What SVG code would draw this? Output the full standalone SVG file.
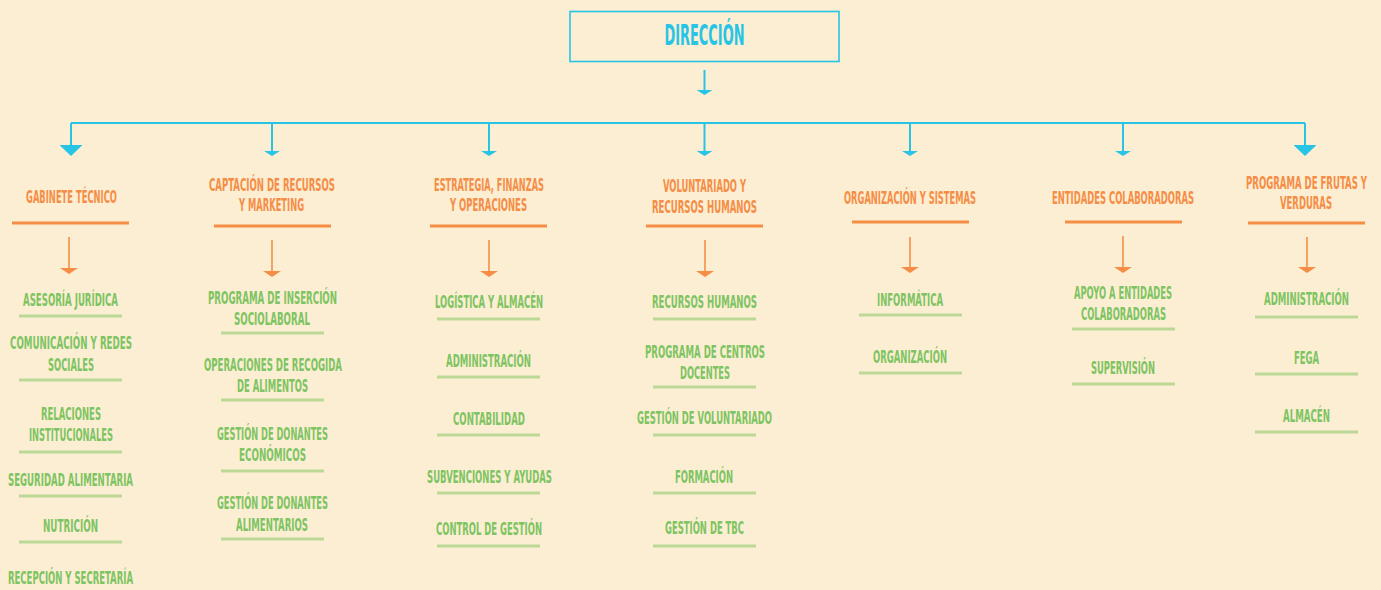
<svg xmlns="http://www.w3.org/2000/svg" width="1381" height="590" viewBox="0 0 1381 590">
<defs>
<style>
text{font-family:"DejaVu Sans Condensed","DejaVu Sans","Liberation Sans",sans-serif;font-weight:bold;font-stretch:condensed;text-anchor:middle}
.d{fill:#27C4E6;font-size:27.5px}
.t{fill:#F58D46;font-size:18px}
.g{fill:#7DC462;font-size:18px}
.ou{stroke:#F58D46;stroke-width:3;fill:none}
.gu{stroke:#BCD897;stroke-width:3;fill:none}
.cy{stroke:#27C4E6;stroke-width:2;fill:none}
.or{stroke:#F58D46;stroke-width:1.6;fill:none}
</style>
<marker id="cyBig" markerUnits="userSpaceOnUse" viewBox="0 -11.5 11 23" markerWidth="11" markerHeight="23" refX="0" refY="0" orient="auto"><path d="M0,-11.5L11,0L0,11.5Z" fill="#27C4E6"/></marker>
<marker id="cySm" markerUnits="userSpaceOnUse" viewBox="0 -8 5 16" markerWidth="5" markerHeight="16" refX="0" refY="0" orient="auto"><path d="M0,-8L5,0L0,8Z" fill="#27C4E6"/></marker>
<marker id="orA" markerUnits="userSpaceOnUse" viewBox="0 -9 6 18" markerWidth="6" markerHeight="18" refX="0" refY="0" orient="auto"><path d="M0,-9L6,0L0,9Z" fill="#F58D46"/></marker>
</defs>
<rect width="1381" height="590" fill="#FCEED2"/>

<g id="connectors">
<path class="cy" d="M704.5,70V90" marker-end="url(#cySm)"/>
<path class="cy" d="M71,123H1305" stroke-width="2.5"/>
<path class="cy" d="M71,123V145" marker-end="url(#cyBig)"/>
<path class="cy" d="M272,123V151" marker-end="url(#cySm)"/>
<path class="cy" d="M489,123V151" marker-end="url(#cySm)"/>
<path class="cy" d="M704.5,123V151" marker-end="url(#cySm)"/>
<path class="cy" d="M910,123V151" marker-end="url(#cySm)"/>
<path class="cy" d="M1123,123V151" marker-end="url(#cySm)"/>
<path class="cy" d="M1305,123V145" marker-end="url(#cyBig)"/>
<path class="or" d="M69,237V268" marker-end="url(#orA)"/>
<path class="or" d="M272,240V271" marker-end="url(#orA)"/>
<path class="or" d="M489,240V271" marker-end="url(#orA)"/>
<path class="or" d="M705,240V271" marker-end="url(#orA)"/>
<path class="or" d="M910,237V267" marker-end="url(#orA)"/>
<path class="or" d="M1123,236V267" marker-end="url(#orA)"/>
<path class="or" d="M1307,237V267" marker-end="url(#orA)"/>
</g>

<g id="direccion">
<rect x="570" y="11.5" width="269" height="50" fill="none" stroke="#27C4E6" stroke-width="1.6"/>
<text class="d" x="704.5" y="45" textLength="80" lengthAdjust="spacingAndGlyphs">DIRECCIÓN</text>
</g>

<!-- Column 1 -->
<g id="gabinete-tecnico">
<text class="t" x="71.5" y="203" textLength="91" lengthAdjust="spacingAndGlyphs">GABINETE TÉCNICO</text>
<path class="ou" d="M12,223H129"/>
</g>
<g id="asesoria-juridica">
<text class="g" x="70.5" y="306" textLength="95" lengthAdjust="spacingAndGlyphs">ASESORÍA JURÍDICA</text>
<path class="gu" d="M19,316H122"/>
</g>
<g id="comunicacion">
<text class="g" x="71" y="349" textLength="122" lengthAdjust="spacingAndGlyphs">COMUNICACIÓN Y REDES</text>
<text class="g" x="71" y="371" textLength="46" lengthAdjust="spacingAndGlyphs">SOCIALES</text>
<path class="gu" d="M19,380H122"/>
</g>
<g id="relaciones">
<text class="g" x="71" y="420" textLength="60" lengthAdjust="spacingAndGlyphs">RELACIONES</text>
<text class="g" x="71" y="441" textLength="84" lengthAdjust="spacingAndGlyphs">INSTITUCIONALES</text>
<path class="gu" d="M19,452H122"/>
</g>
<g id="seguridad">
<text class="g" x="70.5" y="486" textLength="125" lengthAdjust="spacingAndGlyphs">SEGURIDAD ALIMENTARIA</text>
<path class="gu" d="M19,496H122"/>
</g>
<g id="nutricion">
<text class="g" x="70.5" y="532" textLength="55" lengthAdjust="spacingAndGlyphs">NUTRICIÓN</text>
<path class="gu" d="M19,542H122"/>
</g>
<g id="recepcion">
<text class="g" x="70.5" y="584" textLength="125" lengthAdjust="spacingAndGlyphs">RECEPCIÓN Y SECRETARÍA</text>
</g>

<!-- Column 2 -->
<g id="captacion">
<text class="t" x="272" y="191" textLength="126" lengthAdjust="spacingAndGlyphs">CAPTACIÓN DE RECURSOS</text>
<text class="t" x="271.5" y="211" textLength="65" lengthAdjust="spacingAndGlyphs">Y MARKETING</text>
<path class="ou" d="M214,226H331"/>
</g>
<g id="insercion">
<text class="g" x="272.5" y="304" textLength="129" lengthAdjust="spacingAndGlyphs">PROGRAMA DE INSERCIÓN</text>
<text class="g" x="272" y="325" textLength="76" lengthAdjust="spacingAndGlyphs">SOCIOLABORAL</text>
<path class="gu" d="M221,333H324"/>
</g>
<g id="recogida">
<text class="g" x="273" y="371" textLength="138" lengthAdjust="spacingAndGlyphs">OPERACIONES DE RECOGIDA</text>
<text class="g" x="272.5" y="392" textLength="71" lengthAdjust="spacingAndGlyphs">DE ALIMENTOS</text>
<path class="gu" d="M221,400H324"/>
</g>
<g id="donantes-economicos">
<text class="g" x="272.5" y="440" textLength="111" lengthAdjust="spacingAndGlyphs">GESTIÓN DE DONANTES</text>
<text class="g" x="272.5" y="461" textLength="67" lengthAdjust="spacingAndGlyphs">ECONÓMICOS</text>
<path class="gu" d="M221,471H324"/>
</g>
<g id="donantes-alimentarios">
<text class="g" x="272.5" y="509" textLength="111" lengthAdjust="spacingAndGlyphs">GESTIÓN DE DONANTES</text>
<text class="g" x="272" y="531" textLength="72" lengthAdjust="spacingAndGlyphs">ALIMENTARIOS</text>
<path class="gu" d="M221,539H324"/>
</g>

<!-- Column 3 -->
<g id="estrategia">
<text class="t" x="489" y="191" textLength="110" lengthAdjust="spacingAndGlyphs">ESTRATEGIA, FINANZAS</text>
<text class="t" x="488.5" y="211" textLength="77" lengthAdjust="spacingAndGlyphs">Y OPERACIONES</text>
<path class="ou" d="M430,226H547"/>
</g>
<g id="logistica">
<text class="g" x="489" y="308" textLength="108" lengthAdjust="spacingAndGlyphs">LOGÍSTICA Y ALMACÉN</text>
<path class="gu" d="M437,319H540"/>
</g>
<g id="administracion-3">
<text class="g" x="488.5" y="367" textLength="85" lengthAdjust="spacingAndGlyphs">ADMINISTRACIÓN</text>
<path class="gu" d="M437,377H540"/>
</g>
<g id="contabilidad">
<text class="g" x="489" y="425" textLength="72" lengthAdjust="spacingAndGlyphs">CONTABILIDAD</text>
<path class="gu" d="M437,435H540"/>
</g>
<g id="subvenciones">
<text class="g" x="489.5" y="483" textLength="125" lengthAdjust="spacingAndGlyphs">SUBVENCIONES Y AYUDAS</text>
<path class="gu" d="M437,493H540"/>
</g>
<g id="control-gestion">
<text class="g" x="489" y="535" textLength="106" lengthAdjust="spacingAndGlyphs">CONTROL DE GESTIÓN</text>
<path class="gu" d="M437,546H540"/>
</g>

<!-- Column 4 -->
<g id="voluntariado">
<text class="t" x="704.5" y="192" textLength="83" lengthAdjust="spacingAndGlyphs">VOLUNTARIADO Y</text>
<text class="t" x="704.5" y="213" textLength="105" lengthAdjust="spacingAndGlyphs">RECURSOS HUMANOS</text>
<path class="ou" d="M646,226H763"/>
</g>
<g id="recursos-humanos">
<text class="g" x="704.5" y="308" textLength="105" lengthAdjust="spacingAndGlyphs">RECURSOS HUMANOS</text>
<path class="gu" d="M653,319H756"/>
</g>
<g id="centros-docentes">
<text class="g" x="705" y="358" textLength="120" lengthAdjust="spacingAndGlyphs">PROGRAMA DE CENTROS</text>
<text class="g" x="705" y="379" textLength="50" lengthAdjust="spacingAndGlyphs">DOCENTES</text>
<path class="gu" d="M653,387H756"/>
</g>
<g id="gestion-voluntariado">
<text class="g" x="704.5" y="424" textLength="135" lengthAdjust="spacingAndGlyphs">GESTIÓN DE VOLUNTARIADO</text>
<path class="gu" d="M653,435H756"/>
</g>
<g id="formacion">
<text class="g" x="704" y="483" textLength="58" lengthAdjust="spacingAndGlyphs">FORMACIÓN</text>
<path class="gu" d="M653,493H756"/>
</g>
<g id="gestion-tbc">
<text class="g" x="704.5" y="534" textLength="79" lengthAdjust="spacingAndGlyphs">GESTIÓN DE TBC</text>
<path class="gu" d="M653,546H756"/>
</g>

<!-- Column 5 -->
<g id="organizacion-sistemas">
<text class="t" x="910" y="204" textLength="132" lengthAdjust="spacingAndGlyphs">ORGANIZACIÓN Y SISTEMAS</text>
<path class="ou" d="M852,222H969"/>
</g>
<g id="informatica">
<text class="g" x="910" y="306" textLength="66" lengthAdjust="spacingAndGlyphs">INFORMÁTICA</text>
<path class="gu" d="M859,315H962"/>
</g>
<g id="organizacion">
<text class="g" x="910" y="363" textLength="74" lengthAdjust="spacingAndGlyphs">ORGANIZACIÓN</text>
<path class="gu" d="M859,373H962"/>
</g>

<!-- Column 6 -->
<g id="entidades">
<text class="t" x="1123" y="204" textLength="142" lengthAdjust="spacingAndGlyphs">ENTIDADES COLABORADORAS</text>
<path class="ou" d="M1065,222H1182"/>
</g>
<g id="apoyo-entidades">
<text class="g" x="1123" y="299" textLength="98" lengthAdjust="spacingAndGlyphs">APOYO A ENTIDADES</text>
<text class="g" x="1123.5" y="320" textLength="85" lengthAdjust="spacingAndGlyphs">COLABORADORAS</text>
<path class="gu" d="M1072,329H1175"/>
</g>
<g id="supervision">
<text class="g" x="1123" y="374" textLength="64" lengthAdjust="spacingAndGlyphs">SUPERVISIÓN</text>
<path class="gu" d="M1072,384H1175"/>
</g>

<!-- Column 7 -->
<g id="frutas-verduras">
<text class="t" x="1306.5" y="189" textLength="121" lengthAdjust="spacingAndGlyphs">PROGRAMA DE FRUTAS Y</text>
<text class="t" x="1306" y="209" textLength="52" lengthAdjust="spacingAndGlyphs">VERDURAS</text>
<path class="ou" d="M1248,223H1365"/>
</g>
<g id="administracion-7">
<text class="g" x="1306.5" y="305" textLength="85" lengthAdjust="spacingAndGlyphs">ADMINISTRACIÓN</text>
<path class="gu" d="M1255,317H1358"/>
</g>
<g id="fega">
<text class="g" x="1306.5" y="364" textLength="25" lengthAdjust="spacingAndGlyphs">FEGA</text>
<path class="gu" d="M1255,374H1358"/>
</g>
<g id="almacen">
<text class="g" x="1306.5" y="422" textLength="47" lengthAdjust="spacingAndGlyphs">ALMACÉN</text>
<path class="gu" d="M1255,432H1358"/>
</g>
</svg>
